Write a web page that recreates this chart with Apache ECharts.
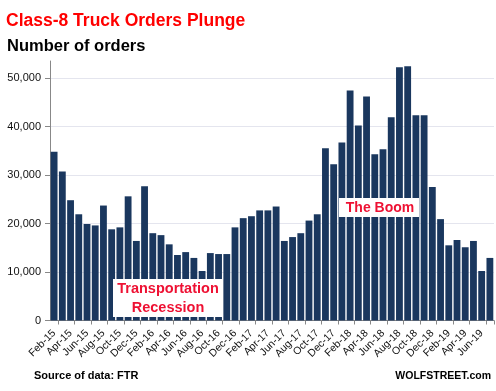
<!DOCTYPE html>
<html>
<head>
<meta charset="utf-8">
<script src="https://cdn.jsdelivr.net/npm/echarts@6.0.0/dist/echarts.min.js"></script>
<style>
html,body{margin:0;padding:0;background:#fff;}
#chart{width:496px;height:391px;}
</style>
</head>
<body>
<div id="chart"></div>
<script>
const categories = [
  'Feb-15','Mar-15','Apr-15','May-15','Jun-15','Jul-15','Aug-15','Sep-15','Oct-15','Nov-15','Dec-15',
  'Jan-16','Feb-16','Mar-16','Apr-16','May-16','Jun-16','Jul-16','Aug-16','Sep-16','Oct-16','Nov-16','Dec-16',
  'Jan-17','Feb-17','Mar-17','Apr-17','May-17','Jun-17','Jul-17','Aug-17','Sep-17','Oct-17','Nov-17','Dec-17',
  'Jan-18','Feb-18','Mar-18','Apr-18','May-18','Jun-18','Jul-18','Aug-18','Sep-18','Oct-18','Nov-18','Dec-18',
  'Jan-19','Feb-19','Mar-19','Apr-19','May-19','Jun-19','Jul-19'
];
const orders = [
  34800, 30700, 24800, 21900, 19900, 19600, 23700, 18800, 19200, 25600, 16400,
  27700, 18000, 17600, 15700, 13500, 14100, 12900, 10200, 13900, 13700, 13700, 19200,
  21100, 21500, 22700, 22700, 23500, 16400, 17200, 18000, 20600, 21900, 35500, 32200,
  36700, 47400, 40200, 46200, 34300, 35300, 41900, 52200, 52400, 42300, 42300, 27500,
  20900, 15500, 16600, 15100, 16400, 10200, 12900
];
const yTicks = [0, 10000, 20000, 30000, 40000, 50000];
const titleText = 'Class-8 Truck Orders Plunge';
const subtitleText = 'Number of orders';
const sourceText = 'Source of data: FTR';
const brandText = 'WOLFSTREET.com';
const noteRecession = ['Transportation', 'Recession'];
const noteBoom = 'The Boom';

const FONT = '"Liberation Sans", Arial, sans-serif';
const RED = '#ee1133';

const chart = echarts.init(document.getElementById('chart'), null, {renderer: 'canvas'});
chart.setOption({
  animation: false,
  backgroundColor: '#ffffff',
  grid: {left: 50, right: 2, top: 61, bottom: 70.5, containLabel: false},
  xAxis: {
    type: 'category',
    data: categories,
    boundaryGap: true,
    axisLine: {show: true, lineStyle: {color: '#888888', width: 1}},
    axisTick: {show: true, length: 4, lineStyle: {color: '#888888'},
      interval: function (i) { return i % 2 === 1; }},
    axisLabel: {
      interval: 1, rotate: 45, margin: 11,
      fontFamily: FONT, fontSize: 10.5, color: '#111111'
    },
    splitLine: {show: false}
  },
  yAxis: {
    type: 'value',
    min: 0, max: 53500, interval: 10000,
    axisLine: {show: true, lineStyle: {color: '#888888', width: 1}},
    axisTick: {show: true, inside: false, length: 5, lineStyle: {color: '#888888'}},
    axisLabel: {
      margin: 9, fontFamily: FONT, fontSize: 11, color: '#111111', showMaxLabel: false,
      formatter: function (v) {
        return yTicks.indexOf(v) >= 0 ? v.toLocaleString('en-US') : '';
      }
    },
    splitLine: {show: true, showMaxLine: false, lineStyle: {color: '#e4e5ee', width: 1}}
  },
  series: [{
    type: 'bar',
    data: orders,
    barCategoryGap: '17%',
    itemStyle: {color: '#1a375e'},
    silent: true
  }],
  graphic: [
    {type: 'text', x: 6, y: 21.5, z: 100,
      style: {text: titleText, fill: '#ff0000', font: 'bold 17.5px ' + FONT, verticalAlign: 'middle', align: 'left'}},
    {type: 'text', x: 7, y: 46, z: 100,
      style: {text: subtitleText, fill: '#000000', font: 'bold 16.5px ' + FONT, verticalAlign: 'middle', align: 'left'}},
    {type: 'text', x: 34, y: 376, z: 100,
      style: {text: sourceText, fill: '#000000', font: 'bold 11px ' + FONT, verticalAlign: 'middle', align: 'left'}},
    {type: 'text', x: 491, y: 376.5, z: 100,
      style: {text: brandText, fill: '#000000', font: 'bold 10.5px ' + FONT, verticalAlign: 'middle', align: 'right'}},
    {type: 'rect', x: 113, y: 279, z: 90, shape: {width: 110, height: 38}, style: {fill: '#ffffff'}},
    {type: 'text', x: 168, y: 289, z: 100,
      style: {text: noteRecession[0], fill: RED, font: 'bold 14.5px ' + FONT, verticalAlign: 'middle', align: 'center'}},
    {type: 'text', x: 168, y: 308, z: 100,
      style: {text: noteRecession[1], fill: RED, font: 'bold 14.5px ' + FONT, verticalAlign: 'middle', align: 'center'}},
    {type: 'rect', x: 339, y: 198, z: 90, shape: {width: 80, height: 19}, style: {fill: '#ffffff'}},
    {type: 'text', x: 380, y: 208, z: 100,
      style: {text: noteBoom, fill: RED, font: 'bold 14px ' + FONT, verticalAlign: 'middle', align: 'center'}}
  ]
});
</script>
</body>
</html>
